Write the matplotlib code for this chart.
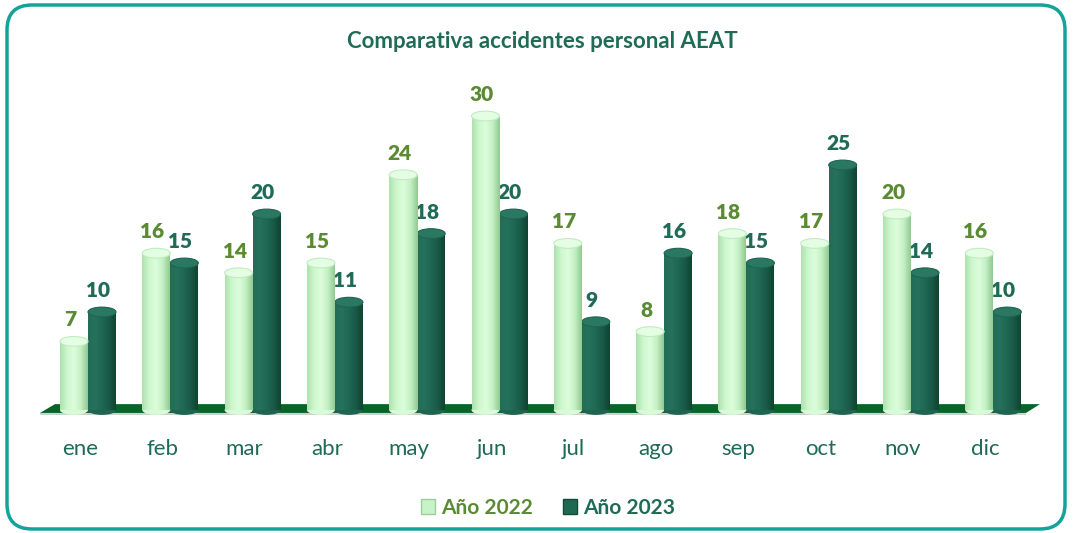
import matplotlib
matplotlib.use("Agg")
import matplotlib.pyplot as plt
import numpy as np
from matplotlib.colors import LinearSegmentedColormap
from matplotlib.patches import Ellipse, Polygon, FancyBboxPatch, Patch

plt.rcParams['font.family'] = ['Lato', 'DejaVu Sans']

# ---- data ----
months = ["ene", "feb", "mar", "abr", "may", "jun", "jul", "ago", "sep", "oct", "nov", "dic"]
series_names = ["Año 2022", "Año 2023"]
values_2022 = [7, 16, 14, 15, 24, 30, 17, 8, 18, 17, 20, 16]
values_2023 = [10, 15, 20, 11, 18, 20, 9, 16, 15, 25, 14, 10]
title = "Comparativa accidentes personal AEAT"

# ---- style ----
W, H = 1073, 533
fig = plt.figure(figsize=(W / 100, H / 100), dpi=100)

px_left, px_right = 40, 1040
px_top, px_bot = 70, 420
ax = fig.add_axes([px_left / W, 1 - px_bot / H, (px_right - px_left) / W, (px_bot - px_top) / H])
ppx = 82.3   # px per x unit
ppy = 9.8    # px per y unit
x0_px = 80   # px of month 0
base_px = 410
ax.set_xlim((px_left - x0_px) / ppx, (px_right - x0_px) / ppx)
ax.set_ylim(-(px_bot - base_px) / ppy, (base_px - px_top) / ppy)
for s in ax.spines.values():
    s.set_visible(False)
ax.set_yticks([])

light_cmap = LinearSegmentedColormap.from_list("l", ["#aee2ae", "#cdf7cd", "#dcfddc", "#c4f0c4", "#92c992"])
dark_cmap = LinearSegmentedColormap.from_list("d", ["#236d57", "#26715b", "#1f6852", "#185a47", "#10432f"])
light_cap, light_cap_edge = "#e4fee4", "#c2ebc2"
dark_cap, dark_cap_edge = "#2b7862", "#1f6450"
lbl_2022, lbl_2023 = "#5a8b33", "#1f6b55"
text_col = "#1f6b55"

bw = 28 / ppx
off = [-6 / ppx, 22 / ppx]
cap_h = 1.0
x = np.arange(len(months))

# floor
floor_top, floor_bot = 0.6, -0.3
def dx(p):
    return (p - x0_px) / ppx
floor = Polygon([(dx(40), floor_bot), (dx(55), floor_top), (dx(1040), floor_top), (dx(1026), floor_bot)],
                closed=True, facecolor="#0a6329", edgecolor="none", zorder=1)
ax.add_patch(floor)
shadow = Polygon([(dx(40), floor_bot), (dx(1026), floor_bot), (dx(1026), floor_bot - 0.25), (dx(40), floor_bot - 0.25)],
                 closed=True, facecolor="#d0d0d0", edgecolor="none", zorder=0.9)
ax.add_patch(shadow)

grad = np.linspace(0, 1, 64).reshape(1, -1)

def draw_series(vals, k, cmap, capc, capedge, lblc, z):
    bars = ax.bar(x + off[k], vals, width=bw, color="none", zorder=z)
    for b, v in zip(bars, vals):
        bx, by, bwid, bh = b.get_x(), b.get_y(), b.get_width(), b.get_height()
        xc = bx + bwid / 2
        # bottom rounding
        ax.add_patch(Ellipse((xc, 0), bwid, cap_h, facecolor=cmap(0.55), edgecolor="none", zorder=z))
        im = ax.imshow(grad, extent=[bx, bx + bwid, by, by + bh], cmap=cmap, aspect="auto",
                       zorder=z + 0.1, interpolation="bilinear")
        im.set_clip_path(b)
        ax.add_patch(Ellipse((xc, bh), bwid, cap_h, facecolor=capc, edgecolor=capedge, lw=0.8, zorder=z + 0.2))
        ax.text(xc - 4 / ppx, bh + 2.2, f"{v}", ha="center", va="center", color=lblc,
                fontsize=15, fontweight="heavy", zorder=z + 1)
    return bars

draw_series(values_2023, 1, dark_cmap, dark_cap, dark_cap_edge, lbl_2023, 2)
draw_series(values_2022, 0, light_cmap, light_cap, light_cap_edge, lbl_2022, 3)

ax.set_xlim((px_left - x0_px) / ppx, (px_right - x0_px) / ppx)
ax.set_ylim(-(px_bot - base_px) / ppy, (base_px - px_top) / ppy)
ax.set_xticks(x)
ax.set_xticklabels(months, fontsize=16, color=text_col)
ax.tick_params(axis="x", length=0, pad=14)

fig.text(542 / W, 1 - 42 / H, title, ha="center", va="center", fontsize=16, fontweight="bold", color=text_col)

handles = [Patch(facecolor="#c8f2c8", edgecolor="#9ccf9c"), Patch(facecolor="#1f6852", edgecolor="#134a3a")]
leg = fig.legend(handles, series_names, loc="center", bbox_to_anchor=(548 / W, 1 - 508 / H), ncol=2,
                 frameon=False, handlelength=0.7, handleheight=0.7, handletextpad=0.3, columnspacing=1.4,
                 prop={"size": 15, "weight": "bold"})
for t, c in zip(leg.get_texts(), [lbl_2022, lbl_2023]):
    t.set_color(c)

border = FancyBboxPatch((0.07, 0.04), 10.58, 5.24, boxstyle="round,pad=0,rounding_size=0.25",
                        transform=fig.dpi_scale_trans, facecolor="none", edgecolor="#14a39a", lw=2.5)
fig.patches.append(border)

fig.savefig("out.png", dpi=100)
